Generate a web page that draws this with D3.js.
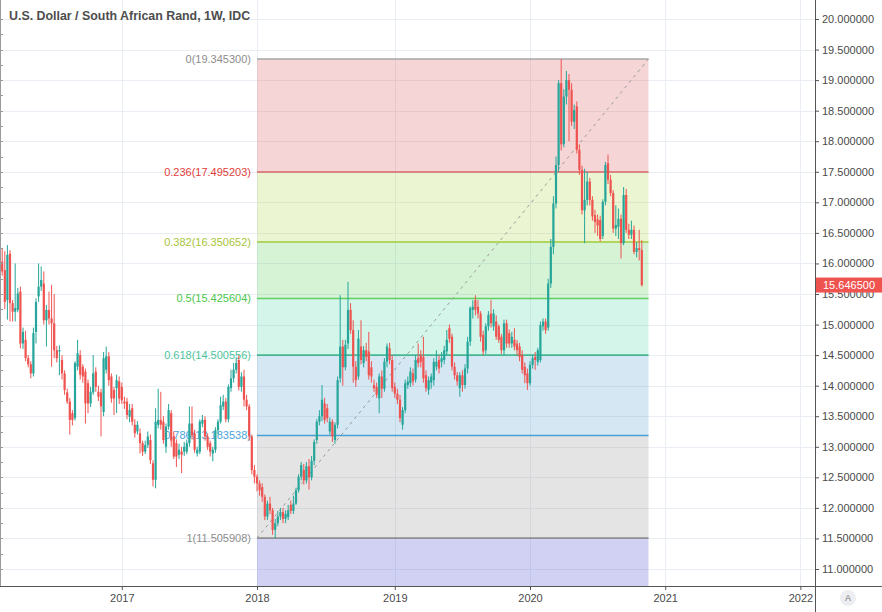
<!DOCTYPE html>
<html lang="en">
<head>
    <meta charset="utf-8">
    <script src="https://d3js.org/d3.v7.min.js"></script>
    <style>
        body { margin: 0; background: #fff; }
        svg text { font-family: "Liberation Sans", Arial, sans-serif; }
    </style>
</head>
<body>
<div id="chart"></div>
<script>
// weekly bars [open, high, low, close], first bar is the week of 2016-02-15
const firstWeek = new Date(Date.UTC(2016, 1, 15));

const bars2016 = [
    [16.03,16.25,15.80,15.87],[15.89,16.20,15.25,15.37],[15.40,16.30,15.08,16.14],[16.16,16.22,15.05,15.35],
    [15.35,15.40,15.05,15.21],[15.21,16.00,15.05,15.27],[15.24,15.60,15.20,15.51],[15.54,15.62,14.61,14.69],
    [14.69,14.95,14.60,14.88],[14.75,14.90,14.40,14.45],[14.45,14.50,14.30,14.35],[14.35,14.40,14.12,14.20],
    [14.20,14.95,14.15,14.86],[14.88,15.43,14.69,15.37],[15.46,16.00,15.37,15.62],[15.62,15.95,15.55,15.73],
    [15.67,15.87,15.00,15.07],[15.07,15.32,14.64,15.24],[15.24,15.54,15.00,15.10],[15.10,15.65,14.31,15.02],
    [15.02,15.50,14.45,14.58],[14.58,14.65,14.38,14.45],[14.56,14.66,14.17,14.58],[14.42,14.50,14.10,14.20],
    [14.20,14.25,13.85,13.93],[13.89,13.95,13.70,13.74],[13.74,13.80,13.20,13.44],[13.55,13.60,13.35,13.44],
    [13.47,14.40,13.43,14.37],[14.31,14.75,14.25,14.53],[14.50,14.58,14.10,14.18],[14.31,14.35,14.05,14.15],
    [14.23,14.28,13.38,13.71],[14.04,14.10,13.55,13.71],[13.71,13.98,13.65,13.90],[13.89,14.50,13.85,14.20],
    [14.23,14.30,13.90,13.98],[13.90,14.00,13.75,13.82],[13.89,13.95,13.17,13.66],[13.57,14.55,13.50,14.45],
    [14.26,14.64,14.20,14.48],[14.48,14.55,14.00,14.09],[14.15,14.20,13.72,13.79],[13.93,13.98,13.52,13.79],
    [13.96,14.18,13.55,14.09],[14.07,14.15,13.70,13.79]
];
const bars2017 = [
    [13.98,14.05,13.70,13.76],[13.74,13.82,13.62,13.71],[13.74,13.80,13.45,13.52],[13.49,13.70,13.40,13.60],
    [13.63,13.70,13.35,13.41],[13.36,13.45,13.15,13.22],[13.25,13.42,13.20,13.36],[13.22,13.30,12.89,13.06],
    [13.06,13.10,12.85,12.92],[12.92,13.10,12.88,13.03],[13.03,13.25,12.98,13.17],[13.11,13.20,12.72,12.78],
    [12.73,12.78,12.35,12.46],[12.46,13.63,12.32,13.41],[13.36,13.95,13.30,13.44],[13.44,13.90,13.28,13.36],
    [13.41,13.50,13.05,13.11],[13.00,13.38,12.90,13.33],[13.33,13.70,13.28,13.60],[13.55,13.60,13.00,13.10],
    [13.17,13.25,12.80,12.84],[13.06,13.12,12.67,12.84],[12.87,13.05,12.80,12.95],[12.92,13.00,12.57,12.87],
    [12.92,13.08,12.85,13.00],[12.92,13.12,12.88,13.06],[13.06,13.66,13.00,13.38],[13.38,13.66,13.12,13.19],
    [13.22,13.28,12.90,12.95],[12.89,13.00,12.84,12.95],[12.92,13.45,12.88,13.41],[13.38,13.52,13.32,13.44],
    [13.44,13.50,13.10,13.17],[13.17,13.22,12.95,13.00],[13.06,13.10,12.84,12.92],[12.89,13.00,12.76,12.95],
    [12.95,13.32,12.90,13.27],[13.27,13.45,13.20,13.41],[13.41,13.82,13.38,13.68],[13.66,13.85,13.60,13.74],
    [13.74,13.80,13.40,13.45],[13.45,14.02,13.40,13.98],[13.96,14.26,13.90,14.12],[14.12,14.37,14.05,14.26],
    [14.26,14.45,14.20,14.37],[14.42,14.50,13.92,13.98],[13.98,14.22,13.90,14.15],[14.15,14.26,13.66,13.77],
    [13.77,13.85,13.60,13.66],[13.66,13.70,13.10,13.17],[13.17,13.20,12.55,12.62],[12.62,12.70,12.40,12.51]
];
const bars2018 = [
    [12.51,12.55,12.27,12.40],[12.40,12.45,12.20,12.29],[12.34,12.40,12.10,12.18],[12.18,12.22,11.80,11.86],
    [11.86,12.12,11.80,12.07],[12.07,12.18,11.90,11.96],[11.96,12.00,11.56,11.64],[11.64,11.82,11.505908,11.75],
    [11.75,11.95,11.70,11.86],[11.86,12.00,11.80,11.93],[11.93,12.00,11.75,11.82],[11.82,11.96,11.75,11.90],
    [11.85,12.05,11.80,11.96],[12.05,12.12,11.90,11.95],[11.95,12.20,11.90,12.07],[12.07,12.33,12.05,12.29],
    [12.29,12.55,12.25,12.51],[12.51,12.75,12.45,12.70],[12.62,12.72,12.38,12.45],[12.45,12.75,12.40,12.68],
    [12.68,12.80,12.30,12.50],[12.50,12.85,12.45,12.77],[12.77,13.12,12.70,13.08],[13.11,13.45,13.05,13.41],
    [13.41,13.60,13.35,13.50],[13.50,14.01,13.42,13.77],[13.71,13.80,13.38,13.44],[13.63,13.70,13.40,13.47],
    [13.25,13.48,13.20,13.41],[13.41,13.45,13.08,13.17],[13.11,13.40,13.05,13.36],[13.36,14.15,13.30,14.09],
    [14.12,15.48,14.05,14.64],[14.64,14.75,14.00,14.30],[14.30,14.75,14.25,14.67],[14.69,15.70,14.60,15.24],
    [15.24,15.35,14.85,14.91],[14.91,15.07,14.05,14.31],[14.31,14.40,13.98,14.09],[14.15,14.91,14.10,14.77],
    [14.64,15.07,14.35,14.42],[14.37,14.65,14.30,14.58],[14.58,14.70,14.40,14.47],[14.56,14.88,14.10,14.17],
    [14.30,14.40,14.05,14.15],[14.01,14.10,13.90,13.96],[13.98,14.05,13.80,13.85],[13.79,14.20,13.55,14.15],
    [14.15,14.25,13.80,13.95],[13.95,14.45,13.90,14.39],[14.39,14.69,14.30,14.64],[14.61,14.70,14.35,14.42],
    [14.42,14.50,13.90,13.96]
];
const bars2019 = [
    [13.98,14.05,13.80,13.87],[13.87,13.95,13.70,13.77],[13.77,13.85,13.40,13.47],[13.36,13.65,13.28,13.60],
    [13.60,14.10,13.55,14.04],[14.01,14.15,13.95,14.07],[14.04,14.30,13.98,14.23],[14.20,14.28,14.00,14.07],
    [14.10,14.50,14.05,14.42],[14.45,14.69,14.30,14.37],[14.50,14.58,14.30,14.39],[14.47,14.80,14.05,14.12],
    [14.17,14.25,13.90,13.96],[13.93,14.15,13.85,14.09],[14.05,14.20,13.95,14.15],[14.09,14.45,14.00,14.39],
    [14.31,14.58,14.25,14.39],[14.42,14.50,14.20,14.28],[14.39,14.55,14.30,14.45],[14.42,14.65,14.35,14.58],
    [14.56,14.91,14.50,14.75],[14.94,15.00,14.70,14.77],[14.80,14.85,14.25,14.31],[14.31,14.38,14.10,14.17],
    [14.17,14.22,14.00,14.07],[13.96,14.22,13.82,14.17],[14.17,14.25,13.90,14.01],[14.01,14.35,13.95,14.28],
    [14.28,14.80,14.20,14.72],[14.72,15.30,14.65,15.27],[15.24,15.40,15.10,15.29],[15.40,15.48,15.15,15.24],
    [15.29,15.40,15.10,15.18],[15.18,15.22,14.72,14.80],[14.83,14.90,14.50,14.56],[14.58,15.02,14.52,14.97],
    [14.97,15.22,14.90,15.16],[15.18,15.40,14.95,15.02],[14.97,15.25,14.90,15.18],[15.05,15.15,14.75,14.80],
    [14.97,15.00,14.70,14.75],[14.80,14.85,14.52,14.58],[14.58,15.08,14.50,15.02],[15.02,15.08,14.62,14.69],
    [14.86,14.92,14.62,14.69],[14.69,14.88,14.62,14.80],[14.75,14.94,14.58,14.64],[14.69,14.75,14.50,14.58],
    [14.64,14.70,14.40,14.47],[14.50,14.58,14.20,14.26],[14.31,14.38,14.04,14.17],[14.20,14.28,13.93,14.04]
];
const bars2020 = [
    [14.04,14.40,14.00,14.34],[14.34,14.50,14.28,14.45],[14.47,14.55,14.26,14.42],[14.39,14.62,14.33,14.58],
    [14.42,15.05,14.38,14.99],[14.97,15.10,14.90,15.05],[15.05,15.10,14.85,14.91],[14.95,15.75,14.90,15.67],
    [15.67,16.40,15.60,16.27],[16.27,17.10,16.15,16.98],[16.98,17.75,16.90,17.61],[17.61,19.00,17.50,18.95],
    [18.95,19.3453,17.85,17.95],[17.95,18.85,17.90,18.73],[18.73,19.15,18.60,19.00],[19.00,19.10,18.00,18.84],
    [18.84,18.95,18.25,18.32],[18.32,18.60,18.20,18.51],[18.57,18.65,17.80,17.86],[17.86,17.95,17.45,17.53],
    [17.53,17.60,16.80,16.87],[16.87,17.55,16.33,17.04],[17.04,17.50,16.95,17.34],[17.34,17.40,16.95,17.04],
    [17.04,17.10,16.70,16.77],[16.79,16.88,16.50,16.68],[16.72,16.80,16.45,16.62],[16.71,16.78,16.36,16.40],
    [16.45,17.05,16.40,17.01],[17.01,17.66,16.95,17.61],[17.64,17.78,17.30,17.37],[17.37,17.45,17.10,17.15],
    [17.15,17.20,16.50,16.57],[16.57,16.95,16.45,16.63],[16.60,16.90,16.40,16.73],[16.73,16.80,16.08,16.33],
    [16.33,17.25,16.30,17.12],[17.12,17.22,16.50,16.55],[16.55,16.65,16.40,16.47],[16.47,16.70,16.40,16.55],
    [16.55,16.62,16.15,16.19],[16.19,16.35,16.10,16.25],[16.25,16.55,16.05,16.22],[16.22,16.38,15.62,15.6465]
];

// fibonacci retracement drawn from the 2018 low to the 2020 high
const fibRatios = [0, 0.236, 0.382, 0.5, 0.618, 0.786, 1];
const fibPrices = [19.3453, 17.495203, 16.350652, 15.425604, 14.500556, 13.183538, 11.505908];
const fibStart = new Date(Date.UTC(2018, 0, 1));
const fibEnd = new Date(Date.UTC(2020, 10, 20));
const fibLineColors = ["#a6a6a6", "#d9646a", "#9fcc3a", "#5fcf5f", "#45b891", "#4a9fd4", "#8f8f8f"];
const fibLabelColors = ["#8c8c8c", "#e0403c", "#a8c43a", "#4cc64c", "#4dc59c", "#4aa3dc", "#8c8c8c"];
const fibZoneColors = ["rgba(214,80,80,0.24)", "rgba(176,214,72,0.25)", "rgba(91,207,91,0.25)",
    "rgba(83,215,167,0.25)", "rgba(83,159,207,0.25)", "rgba(147,147,147,0.25)", "rgba(71,75,207,0.25)"];

const priceTicks = d3.range(11, 20.001, 0.5);
const tickYears = [2017, 2018, 2019, 2020, 2021, 2022];
const lastPrice = 15.6465;

const width = 882, height = 612;
const plotRight = 815, plotBottom = 586;

const svg = d3.select("#chart").append("svg")
    .attr("width", width)
    .attr("height", height);

svg.append("rect").attr("width", width).attr("height", height).attr("fill", "#fff");

// scales
const x = d3.scaleUtc()
    .domain([new Date(Date.UTC(2018, 0, 1)), new Date(Date.UTC(2021, 0, 4))])
    .range([257, 665.2]);
const y = d3.scaleLinear().domain([11, 20]).range([569, 19]);

const bars = [].concat(bars2016, bars2017, bars2018, bars2019, bars2020).map((b, i) => ({
    date: d3.utcMonday.offset(firstWeek, i), o: b[0], h: b[1], l: b[2], c: b[3]
}));
const yearDates = tickYears.map(yr => d3.utcMonday.ceil(new Date(Date.UTC(yr, 0, 1))));

svg.append("defs").append("clipPath").attr("id", "plot")
    .append("rect").attr("width", plotRight).attr("height", plotBottom);

const plot = svg.append("g").attr("clip-path", "url(#plot)");

// grid
plot.append("g").selectAll("line").data(priceTicks).join("line")
    .attr("x1", 0).attr("x2", plotRight)
    .attr("y1", d => Math.round(y(d)) + 0.5).attr("y2", d => Math.round(y(d)) + 0.5)
    .attr("stroke", "#e9eef4");
plot.append("g").selectAll("line").data(yearDates).join("line")
    .attr("x1", d => Math.round(x(d)) + 0.5).attr("x2", d => Math.round(x(d)) + 0.5)
    .attr("y1", 0).attr("y2", plotBottom)
    .attr("stroke", "#e9eef4");

// fib zones
const fx0 = x(fibStart), fx1 = x(fibEnd);
const zoneEdges = fibPrices.map(p => y(p)).concat([plotBottom]);
plot.append("g").selectAll("rect").data(fibZoneColors).join("rect")
    .attr("x", fx0).attr("width", fx1 - fx0)
    .attr("y", (d, i) => zoneEdges[i])
    .attr("height", (d, i) => zoneEdges[i + 1] - zoneEdges[i])
    .attr("fill", d => d);

plot.append("g").selectAll("line").data(fibPrices).join("line")
    .attr("x1", fx0).attr("x2", fx1)
    .attr("y1", d => y(d)).attr("y2", d => y(d))
    .attr("stroke", (d, i) => fibLineColors[i])
    .attr("stroke-width", 1.6);

// trend line of the retracement
plot.append("line")
    .attr("x1", fx0).attr("y1", y(fibPrices[6]))
    .attr("x2", fx1).attr("y2", y(fibPrices[0]))
    .attr("stroke", "#9a9a9a")
    .attr("stroke-width", 1)
    .attr("stroke-dasharray", "3,4");

// level labels
plot.append("g").selectAll("text").data(fibPrices).join("text")
    .attr("x", fx0 - 6)
    .attr("y", d => y(d))
    .attr("dy", "0.35em")
    .attr("text-anchor", "end")
    .attr("font-size", "11px")
    .attr("fill", (d, i) => fibLabelColors[i])
    .text((d, i) => fibRatios[i] + "(" + d.toFixed(6) + ")");

// candles
const up = "#26a69a", down = "#ef5350";
const candle = plot.append("g").selectAll("g").data(bars).join("g")
    .attr("fill", d => d.c >= d.o ? up : down)
    .attr("stroke", d => d.c >= d.o ? up : down);
candle.append("line")
    .attr("x1", d => x(d.date)).attr("x2", d => x(d.date))
    .attr("y1", d => y(d.h)).attr("y2", d => y(d.l))
    .attr("stroke-width", 1);
candle.append("rect")
    .attr("x", d => x(d.date) - 1.1)
    .attr("width", 2.2)
    .attr("y", d => y(Math.max(d.o, d.c)))
    .attr("height", d => Math.max(1, Math.abs(y(d.o) - y(d.c))))
    .attr("stroke", "none");

// left edge
svg.append("line").attr("x1", 0.5).attr("x2", 0.5).attr("y1", 0).attr("y2", plotBottom)
    .attr("stroke", "#9a9a9a");
svg.append("g").selectAll("line").data(d3.range(11, 20.001, 0.25)).join("line")
    .attr("x1", 0).attr("x2", 3)
    .attr("y1", d => Math.round(y(d)) + 0.5).attr("y2", d => Math.round(y(d)) + 0.5)
    .attr("stroke", "#9a9a9a");

// price axis
svg.append("rect").attr("x", plotRight).attr("width", width - plotRight).attr("height", height).attr("fill", "#fff");
svg.append("rect").attr("y", plotBottom).attr("width", width).attr("height", height - plotBottom).attr("fill", "#fff");

const yAxis = svg.append("g")
    .attr("transform", `translate(${plotRight},0)`)
    .call(d3.axisRight(y).tickValues(priceTicks).tickFormat(d3.format(".6f")).tickSize(4).tickPadding(3));
yAxis.select(".domain").remove();
yAxis.selectAll("line").attr("stroke", "#555");
yAxis.selectAll("text").attr("fill", "#4a4a4a").style("font-size", "11px")
    .style("font-family", "'Liberation Sans', Arial, sans-serif");

const xAxis = svg.append("g")
    .attr("transform", `translate(0,${plotBottom})`)
    .call(d3.axisBottom(x).tickValues(yearDates).tickFormat(d3.utcFormat("%Y")).tickSize(4).tickPadding(4));
xAxis.select(".domain").remove();
xAxis.selectAll("line").attr("stroke", "#555");
xAxis.selectAll("text").attr("fill", "#4a4a4a").style("font-size", "11px")
    .style("font-family", "'Liberation Sans', Arial, sans-serif");

svg.append("line").attr("x1", plotRight + 0.5).attr("x2", plotRight + 0.5).attr("y1", 0).attr("y2", height)
    .attr("stroke", "#555");
svg.append("line").attr("x1", 0).attr("x2", width).attr("y1", plotBottom + 0.5).attr("y2", plotBottom + 0.5)
    .attr("stroke", "#555");

// last price tag
const ly = y(lastPrice);
svg.append("rect").attr("x", plotRight + 1).attr("y", ly - 7.5).attr("width", width - plotRight - 1).attr("height", 15)
    .attr("fill", down);
svg.append("text").attr("x", plotRight + 8).attr("y", ly).attr("dy", "0.35em")
    .attr("fill", "#fff").attr("font-size", "11px").text(lastPrice.toFixed(6));

// title
svg.append("text").attr("x", 9).attr("y", 20)
    .attr("font-size", "12.4px").attr("font-weight", "bold").attr("fill", "#4d4d4d")
    .text("U.S. Dollar / South African Rand, 1W, IDC");

// auto scale button
svg.append("circle").attr("cx", 848).attr("cy", 598).attr("r", 8).attr("fill", "#eceef2");
svg.append("text").attr("x", 848).attr("y", 598).attr("dy", "0.35em").attr("text-anchor", "middle")
    .attr("font-size", "9px").attr("fill", "#777").text("A");
</script>
</body>
</html>
